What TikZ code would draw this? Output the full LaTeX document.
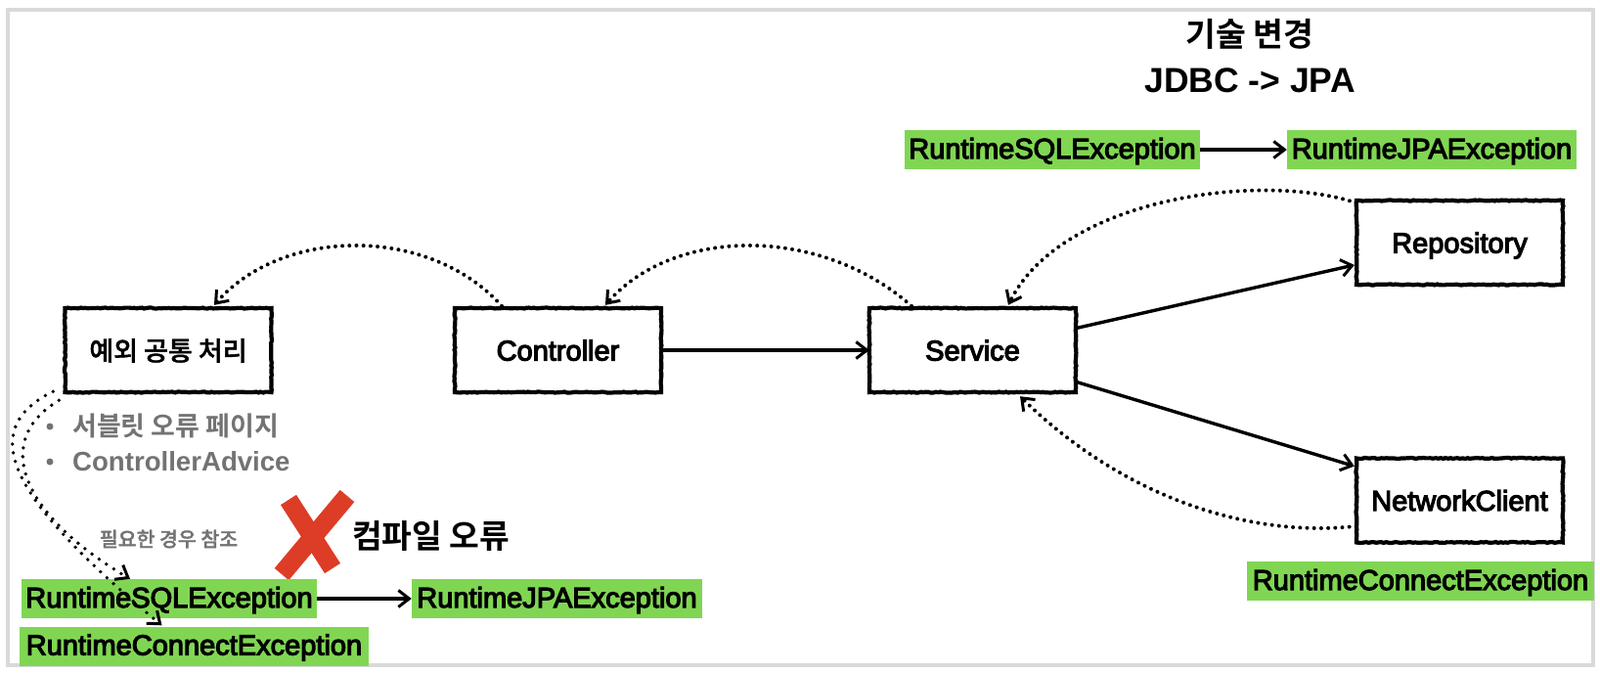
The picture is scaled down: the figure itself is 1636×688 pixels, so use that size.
\documentclass[tikz,border=0pt]{standalone}
\usepackage{fontspec}
\setmainfont{Liberation Sans}
\newfontfamily\krb{Noto Sans CJK KR Bold}
\newfontfamily\krm[FakeBold=1.5]{Noto Sans CJK KR Medium}
\newfontfamily\lat[FakeBold=4]{Liberation Sans}
\usetikzlibrary{arrows.meta,calc,decorations.pathmorphing}
\definecolor{grn}{HTML}{80D653}
\definecolor{frm}{HTML}{D9D9D9}
\definecolor{redx}{HTML}{DD3C26}
\definecolor{gtx}{HTML}{737373}
\tikzset{
  x=1pt,y=-1pt,
  comp/.style={minimum width=211pt,minimum height=86pt,inner sep=0pt,text height=27pt,text depth=6pt,
    font=\lat\fontsize{29}{32}\selectfont,
    postaction={draw=black,line width=4.2pt,decorate,decoration={random steps,segment length=2.5pt,amplitude=0.5pt}}},
  exc/.style={fill=grn,inner sep=0pt,minimum height=40pt,text height=24pt,text depth=6pt,
    font=\lat\fontsize{29}{32}\selectfont,text=black},
  tipbarb/.style={-{Straight Barb[length=11pt,width=17pt,line width=3pt,line cap=butt]}},
  solid arrow/.style={line width=3.4pt,tipbarb},
  dots arrow/.style={line width=4pt,line cap=round,dash pattern=on 0pt off 7.2pt,tipbarb},
  sparse arrow/.style={line width=3.8pt,line cap=round,dash pattern=on 0pt off 9pt,tipbarb},
  stroke x/.style={draw=redx,line width=19pt},
  bulletdot/.style={circle,fill=gtx,minimum size=7pt,inner sep=0pt},
}
\begin{document}
\begin{tikzpicture}
\useasboundingbox (0,0) rectangle (1636,688);
\fill[white] (0,0) rectangle (1636,688);
\draw[frm,line width=3.5pt] (8,10) rectangle (1629,680);
% title
\node[font=\krb\fontsize{33.5}{36}\selectfont] (t1) at (1278,35) {기술 변경};
\node[font=\bfseries\fontsize{35.5}{40}\selectfont] (t2) at (1278,82) {JDBC -> JPA};
% components
\node[comp] (ex) at (172,358) {\krm\fontsize{27}{30}\selectfont 예외 공통 처리};
\node[comp] (ct) at (570.5,358) {Controller};
\node[comp] (sv) at (994.5,358) {Service};
\node[comp] (rp) at (1492.5,248) {Repository};
\node[comp] (nc) at (1492.5,511.5) {NetworkClient};
% x mark
\draw[stroke x] (295,511) -- (340,581);
\draw[stroke x] (355,507) -- (288,587);
% exceptions
\node[exc,minimum width=302pt] (s1) at (1076,153) {RuntimeSQLException};
\node[exc,minimum width=296pt] (j1) at (1464,153) {RuntimeJPAException};
\node[exc,minimum width=355pt] (c1) at (1452.5,594) {RuntimeConnectException};
\node[exc,minimum width=302pt] (s2) at (173,612) {RuntimeSQLException};
\node[exc,minimum width=297pt] (j2) at (569.5,612) {RuntimeJPAException};
\node[exc,minimum width=357pt] (c2) at (198.5,660.5) {RuntimeConnectException};
% gray text
\node[bulletdot] (b1) at (51,436) {};
\node[bulletdot] (b2) at (51,472) {};
\node[anchor=west,text=gtx,inner sep=0pt,font=\krb\fontsize{27}{30}\selectfont] (g1) at (74,435) {서블릿 오류 페이지};
\node[anchor=west,text=gtx,inner sep=0pt,font=\bfseries\fontsize{27.6}{30}\selectfont] (g2) at (74,472) {ControllerAdvice};
\node[text=gtx,inner sep=0pt,font=\krm\fontsize{20.5}{23}\selectfont] (g3) at (172.5,551) {필요한 경우 참조};
\node[anchor=west,inner sep=0pt,font=\krb\fontsize{33.4}{36}\selectfont] (g4) at (360,548) {컴파일 오류};
% solid connectors
\draw[solid arrow] (ct.east) -- (sv.west);
\draw[solid arrow,shorten >=2pt] (sv.12.6) -- (rp.192.4);
\draw[solid arrow,shorten >=2pt] (sv.-17.5) -- (nc.162.5);
\draw[solid arrow] (s1) -- (j1);
\draw[solid arrow] (s2) -- (j2);
% dotted connectors
\coordinate (svtop) at ($(sv.north)+(36.5,-3)$);
\coordinate (svbot) at ($(sv.south)+(48.5,4)$);
\coordinate (cttop) at ($(ct.north)+(48.5,-3)$);
\coordinate (extop) at ($(ex.north)+(47,-3)$);
\coordinate (svout) at ($(sv.north)+(-62.5,-2)$);
\coordinate (ctout) at ($(ct.north)+(-57.5,-2)$);
\draw[dots arrow] (rp.159.2) .. controls (1290,175) and (1085,202) .. (svtop);
\draw[dots arrow] (nc.194.3) .. controls (1280,550) and (1150,510) .. (svbot);
\draw[dots arrow] (svout) .. controls (840,231) and (690,231) .. (cttop);
\draw[dots arrow] (ctout) .. controls (440,231) and (290,231) .. (extop);
\coordinate (la) at ($(ex.south west)+(-12,-1)$);
\coordinate (lb) at ($(ex.south west)+(-6,8)$);
\coordinate (s2a) at ($(s2.north)+(-40,0)$);
\coordinate (c2a) at ($(c2.north)+(-33,-1)$);
\draw[sparse arrow] (lb) .. controls (-8,450) and (20,525) .. (s2a);
\draw[sparse arrow] (la) .. controls (-26,440) and (10,510) .. (c2a);
\end{tikzpicture}
\end{document}
